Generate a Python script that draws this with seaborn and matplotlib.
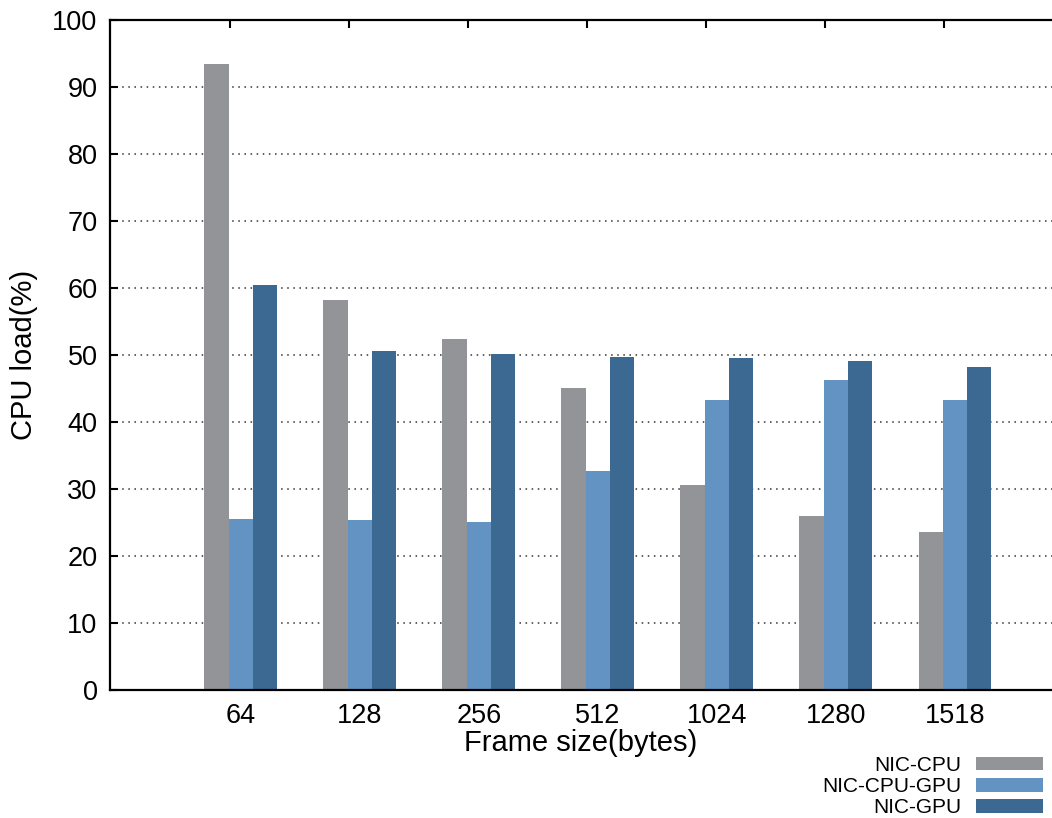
import matplotlib
matplotlib.use("Agg")
import matplotlib.pyplot as plt
import seaborn as sns
import pandas as pd

# Data
frame_sizes = ["64", "128", "256", "512", "1024", "1280", "1518"]
series_names = ["NIC-CPU", "NIC-CPU-GPU", "NIC-GPU"]
nic_cpu = [93.4, 58.2, 52.4, 45.1, 30.6, 26.0, 23.6]
nic_cpu_gpu = [25.5, 25.4, 25.1, 32.7, 43.3, 46.3, 43.3]
nic_gpu = [60.5, 50.6, 50.1, 49.7, 49.6, 49.1, 48.2]
colors = ["#939498", "#6293c2", "#3c6992"]

rows = []
for name, vals in zip(series_names, [nic_cpu, nic_cpu_gpu, nic_gpu]):
    for size, v in zip(frame_sizes, vals):
        rows.append({"Frame size": size, "CPU load": v, "series": name})
df = pd.DataFrame(rows)

sns.set_style("white")
plt.rcParams["font.family"] = ["Liberation Sans", "DejaVu Sans"]
plt.rcParams["text.color"] = "black"
plt.rcParams["axes.labelcolor"] = "black"

W, H = 1052, 818
fig = plt.figure(figsize=(W / 100, H / 100), dpi=100)
ax = fig.add_axes([110 / W, 1 - 690 / H, 1 - 110 / W, (690 - 20) / H])

sns.barplot(data=df, x="Frame size", y="CPU load", hue="series",
            order=frame_sizes, hue_order=series_names, palette=colors,
            saturation=1, width=0.613, edgecolor="none", linewidth=0, ax=ax)

handles, labels = ax.get_legend_handles_labels()
if ax.get_legend() is not None:
    ax.get_legend().remove()

ax.set_xlim(-1.10, (W - 241) / 119)
ax.set_ylim(0, 100)
ax.set_yticks(range(0, 101, 10))

ax.set_axisbelow(True)
ax.yaxis.grid(True, linestyle=(0, (1, 3)), linewidth=1.1, color="#333333")
ax.xaxis.grid(False)

for side in ["left", "top", "bottom"]:
    ax.spines[side].set_visible(True)
    ax.spines[side].set_linewidth(1.6)
    ax.spines[side].set_color("black")
ax.spines["right"].set_visible(False)

ax.tick_params(axis="y", direction="in", length=6, width=1.5, labelsize=19.5,
               pad=9, left=True, colors="black")
ax.tick_params(axis="x", bottom=False, labelsize=19.5, pad=6, colors="black")

# mirrored category ticks on the top border
top = ax.secondary_xaxis("top")
top.set_xticks([i - 0.092 for i in range(len(frame_sizes))])
top.set_xticklabels([])
top.tick_params(direction="in", length=6, width=1.5, colors="black")
top.spines["top"].set_visible(False)

ax.set_xlabel("Frame size(bytes)", fontsize=21, labelpad=0, color="black")
ax.set_ylabel("CPU load(%)", fontsize=21, labelpad=10, color="black")

fig.legend(handles, labels, loc="lower right",
           bbox_to_anchor=(1043 / W, 1 / H), frameon=False,
           markerfirst=False, fontsize=15, handlelength=3.2,
           handleheight=0.65, handletextpad=0.7, labelspacing=0.1,
           borderpad=0, borderaxespad=0, labelcolor="black")

fig.savefig("out.png", dpi=100)
